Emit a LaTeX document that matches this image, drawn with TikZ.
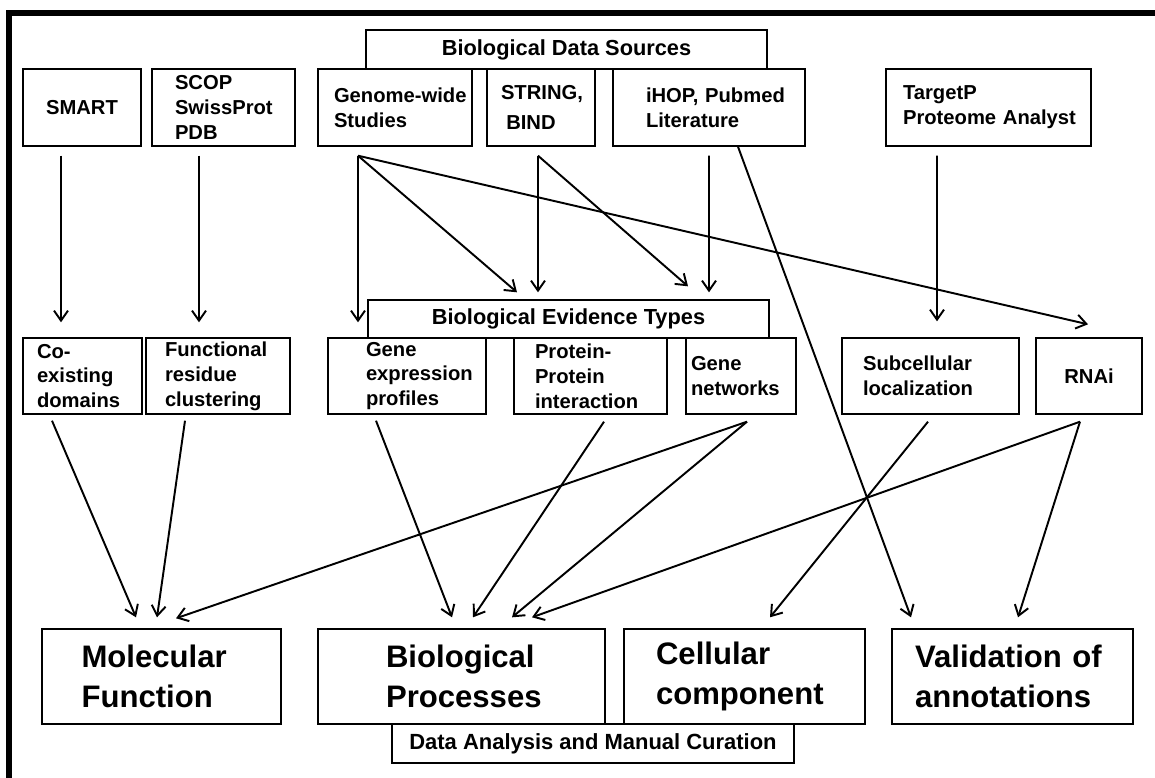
\documentclass[tikz,border=0pt]{standalone}
\usepackage{fontspec}
\setmainfont{Liberation Sans}
\usetikzlibrary{arrows.meta,calc}
\tikzset{pad/.style 2 args={inner xsep=#1, text width=#2}}
\hyphenpenalty=10000
\exhyphenpenalty=10000

\begin{document}
\begin{tikzpicture}[x=0.02cm, y=-0.02cm,
        box/.style={draw, line width=0.8pt, align=left, inner ysep=0pt},
        src/.style={box, minimum height=1.54cm, font=\fontsize{11.5}{14.2}\selectfont\bfseries},
        ev/.style={box, minimum height=1.52cm, font=\fontsize{11.5}{14.2}\selectfont\bfseries},
        res/.style={box, minimum height=1.9cm, font=\fontsize{17.7}{22.5}\selectfont\bfseries},
        heading/.style={box, align=center, minimum width=8.02cm, minimum height=0.78cm, font=\fontsize{12.4}{15}\selectfont\bfseries},
        link/.style={-{Straight Barb[length=2mm,width=2.8mm]}, line width=1.1pt}
    ]

    % --- page and frame ---
    \fill[white] (0,0) rectangle (1155,777);
    \useasboundingbox (0,0) rectangle (1155,777);
    \draw[line width=3.4pt] (9,790) -- (9,13) -- (1170,13);

    % --- data sources ---
    \node[heading] (sources) at (566.5,49.5) {Biological Data Sources};
    \node[src, align=center, minimum width=2.36cm] (smart) at (82,107.5) {SMART};
    \node[src, pad={0.46cm}{1.94cm}] (scop) at (223.5,107.5) {SCOP\\SwissProt\\PDB};
    \node[src, pad={0.32cm}{2.44cm}] (genome) at (395,107.5) {Genome-wide\\Studies};
    \node[src, pad={0.28cm}{1.6cm}] (string) at (541,107.5) {STRING,\\[3pt]\hspace*{3pt}BIND};
    \node[src, pad={0.66cm}{2.52cm}] (ihop) at (709,107.5) {iHOP,~Pubmed\\Literature};
    \node[src, pad={0.34cm}{3.42cm}] (targetp) at (988.5,107.5) {TargetP\\Proteome~Analyst};

    % --- evidence types ---
    \node[heading, minimum height=0.76cm] (evidence) at (568.5,319) {Biological Evidence Types};
    \node[ev, pad={0.28cm}{1.82cm}] (coex) at (82.5,376) {Co-\\existing\\domains};
    \node[ev, pad={0.38cm}{2.12cm}] (funres) at (218,376) {Functional\\residue\\clustering};
    \node[ev, pad={0.76cm}{1.64cm}] (geneexp) at (407,376) {Gene\\expression\\profiles};
    \node[ev, pad={0.42cm}{2.22cm}] (ppi) at (590.5,376) {Protein-\\Protein\\interaction};
    \node[ev, pad={0.1cm}{2cm}] (genenet) at (741,376) {Gene\\networks};
    \node[ev, pad={0.42cm}{2.7cm}] (subcell) at (930.5,376) {Subcellular\\localization};
    \node[ev, align=center, minimum width=2.12cm] (rnai) at (1089,376) {RNAi};

    % --- annotation results ---
    \node[res, pad={0.79cm}{3.2cm}] (molfun) at (161.5,676.5) {Molecular\\Function};
    \node[res, pad={1.36cm}{3.02cm}] (bioproc) at (461.5,676.5) {Biological\\Processes};
    \node[res, pad={0.64cm}{3.54cm}] (cellcomp) at (744.5,676.5) {Cellular\\component};
    \node[res, pad={0.46cm}{3.9cm}] (valid) at (1012.5,676.5) {Validation~of\\annotations};
    \node[heading, minimum width=8.04cm, font=\fontsize{12.5}{15}\selectfont\bfseries] (curation) at (593,743.5) {Data Analysis and Manual Curation};

    % --- sources to evidence ---
    \draw[link] ($(smart.south)+(-21,9)$) -- ($(coex.north)+(-21.5,-15)$);
    \draw[link] ($(scop.south)+(-24.5,9)$) -- ($(funres.north)+(-19,-15)$);
    \draw[link] ($(genome.south)+(-37,9)$) -- ($(geneexp.north)+(-49,-15)$);
    \draw[link] ($(genome.south)+(-37,9)$) -- ($(evidence.north)+(-51.5,-7)$);
    \draw[link] ($(genome.south)+(-37,9)$) -- ($(rnai.north)+(-1,-13)$);
    \draw[link] ($(string.south)+(-3,9)$) -- ($(evidence.north)+(-30.5,-7)$);
    \draw[link] ($(string.south)+(-3,9)$) -- ($(evidence.north)+(119.5,-13)$);
    \draw[link] ($(ihop.south)+(0,9)$) -- ($(evidence.north)+(140.5,-7)$);
    \draw[link] ($(ihop.south)+(29,0)$) -- ($(valid.north)+(-101.5,-11)$);
    \draw[link] ($(targetp.south)+(-51.5,9)$) -- ($(subcell.north)+(6.5,-16)$);

    % --- evidence to results ---
    \draw[link] ($(coex.south)+(-30.5,6)$) -- ($(molfun.north)+(-25.5,-11)$);
    \draw[link] ($(funres.south)+(-33,6)$) -- ($(molfun.north)+(-4.5,-11)$);
    \draw[link] ($(genenet.south)+(6,7)$) -- ($(molfun.north)+(14.5,-10)$);
    \draw[link] ($(geneexp.south)+(-31,6)$) -- ($(bioproc.north)+(-9.5,-11)$);
    \draw[link] ($(ppi.south)+(13.5,7)$) -- ($(bioproc.north)+(11.5,-11)$);
    \draw[link] ($(genenet.south)+(6,7)$) -- ($(bioproc.north)+(50.5,-11)$);
    \draw[link] ($(rnai.south)+(-9,7)$) -- ($(bioproc.north)+(70.5,-11)$);
    \draw[link] ($(subcell.south)+(-2.5,7)$) -- ($(cellcomp.north)+(25.5,-11)$);
    \draw[link] ($(rnai.south)+(-9,7)$) -- ($(valid.north)+(5.5,-11)$);

\end{tikzpicture}
\end{document}
